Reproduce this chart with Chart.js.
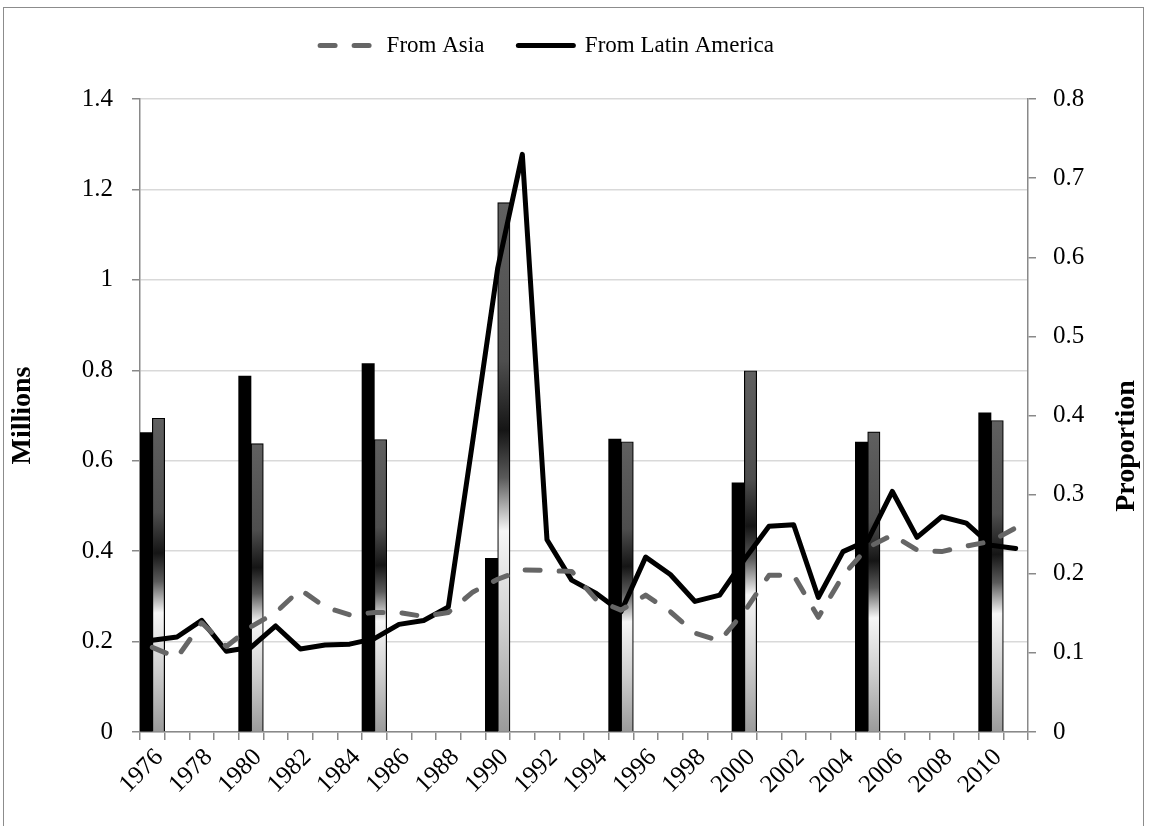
<!DOCTYPE html>
<html><head><meta charset="utf-8">
<script src="https://cdn.jsdelivr.net/npm/chart.js@4.4.1/dist/chart.umd.min.js"></script>
<style>
html,body{margin:0;padding:0;background:#fff;}
#wrap{position:relative;width:1150px;height:826px;overflow:hidden;background:#fff;}
#frame{position:absolute;left:3px;top:7px;width:1139px;height:900px;border:1px solid #8c8c8c;pointer-events:none;}
canvas{position:absolute;left:0;top:0;}
</style></head><body>
<div id="wrap"><canvas id="c" width="1150" height="826"></canvas><div id="frame"></div></div>
<script>
// ---- data ----
const years = ['1976','1977','1978','1979','1980','1981','1982','1983','1984','1985','1986','1987',
  '1988','1989','1990','1991','1992','1993','1994','1995','1996','1997','1998','1999',
  '2000','2001','2002','2003','2004','2005','2006','2007','2008','2009','2010','2011'];
const labeledYears = ['1976','1978','1980','1982','1984','1986','1988','1990','1992','1994',
  '1996','1998','2000','2002','2004','2006','2008','2010'];
// bars, millions (left axis)
const barsBlack = [0.662,null,null,null,0.787,null,null,null,null,0.815,null,null,
  null,null,0.384,null,null,null,null,0.648,null,null,null,null,
  0.551,null,null,null,null,0.641,null,null,null,null,0.706,null];
const barsGradient = [0.694,null,null,null,0.638,null,null,null,null,0.647,null,null,
  null,null,1.171,null,null,null,null,0.642,null,null,null,null,
  0.799,null,null,null,null,0.664,null,null,null,null,0.689,null];
// proportions (right axis)
const fromAsia = [0.107,0.094,0.138,0.108,0.133,0.151,0.180,0.158,0.148,0.151,0.151,0.146,
  0.151,0.177,0.193,0.205,0.204,0.203,0.167,0.154,0.173,0.152,0.125,0.115,
  0.152,0.198,0.198,0.145,0.198,0.233,0.249,0.230,0.228,0.235,0.241,0.258];
const fromLatinAmerica = [0.116,0.120,0.141,0.102,0.107,0.134,0.105,0.110,0.111,0.118,0.136,0.141,
  0.158,0.370,0.586,0.730,0.243,0.192,0.175,0.152,0.221,0.199,0.165,0.173,
  0.218,0.260,0.262,0.170,0.228,0.242,0.304,0.246,0.272,0.264,0.236,0.232];
const leftTicks = {min: 0, max: 1.4, step: 0.2};
const rightTicks = {min: 0, max: 0.8, step: 0.1};

// ---- styling ----
const FONT = '"Liberation Serif", "Times New Roman", serif';
const AXIS = '#898989';

function gradFill(ctx) {
  const chart = ctx.chart;
  const v = ctx.raw;
  if (!chart.chartArea || v == null) return '#5a5a5a';
  const ys = chart.scales.y, xs = chart.scales.x;
  const top = ys.getPixelForValue(v), bot = ys.getPixelForValue(0);
  const cx = xs.getPixelForValue(ctx.dataIndex);
  const g = chart.ctx.createLinearGradient(cx, top, cx + 12, bot);
  g.addColorStop(0, '#606060');
  g.addColorStop(0.3, '#4e4e4e');
  g.addColorStop(0.43, '#151515');
  g.addColorStop(0.52, '#5a5a5a');
  g.addColorStop(0.62, '#f6f6f6');
  g.addColorStop(0.8, '#cfcfcf');
  g.addColorStop(1, '#9a9a9a');
  return g;
}

const extras = {
  id: 'extras',
  beforeUpdate(chart) {
    const lg = chart.legend;
    if (lg && !lg.__p) {
      const f = lg.fit;
      lg.fit = function () { f.call(this); this.height = 99; };
      lg.__p = true;
    }
  },
  afterDraw(chart) {
    const c = chart.ctx;
    c.save();
    c.translate(1127, 446);
    c.rotate(-Math.PI / 2);
    c.font = 'bold 28px ' + FONT;
    c.fillStyle = '#000';
    c.textAlign = 'center';
    c.textBaseline = 'middle';
    c.fillText('Proportion', 0, 0);
    c.restore();
  }
};

const fmt = v => String(+Number(v).toFixed(1));

new Chart(document.getElementById('c'), {
  data: {
    labels: years,
    datasets: [
      { type: 'bar', label: 'Black', data: barsBlack, yAxisID: 'y', backgroundColor: '#000',
        borderWidth: 0, categoryPercentage: 1, barPercentage: 1, order: 2 },
      { type: 'bar', label: 'Gradient', data: barsGradient, yAxisID: 'y', backgroundColor: gradFill,
        borderColor: '#000', borderWidth: 1.2, categoryPercentage: 1, barPercentage: 1, order: 2 },
      { type: 'line', label: 'From Asia', data: fromAsia, yAxisID: 'y1', borderColor: '#666666',
        borderWidth: 5, borderDash: [15, 19], borderCapStyle: 'round', borderJoinStyle: 'round',
        pointRadius: 0, pointStyle: 'line', tension: 0, order: 0 },
      { type: 'line', label: 'From Latin America', data: fromLatinAmerica, yAxisID: 'y1', borderColor: '#000',
        borderWidth: 5, borderCapStyle: 'round', borderJoinStyle: 'round',
        pointRadius: 0, pointStyle: 'line', tension: 0, order: 1 }
    ]
  },
  options: {
    responsive: false,
    animation: false,
    devicePixelRatio: 1,
    layout: { padding: { left: 0, right: 56, top: 0, bottom: 0 } },
    plugins: {
      tooltip: { enabled: false },
      legend: {
        position: 'top',
        labels: {
          font: { family: FONT, size: 23 },
          color: '#000',
          usePointStyle: true,
          pointStyleWidth: 55,
          padding: 34,
          generateLabels(chart) {
            const items = Chart.defaults.plugins.legend.labels.generateLabels(chart);
            return items.filter(it => it.datasetIndex >= 2).map(it => {
              const ds = chart.data.datasets[it.datasetIndex];
              it.lineDash = ds.borderDash || [];
              it.lineWidth = ds.borderWidth;
              it.strokeStyle = ds.borderColor;
              it.fillStyle = ds.borderColor;
              it.lineCap = ds.borderCapStyle || 'butt';
              it.pointStyle = 'line';
              return it;
            });
          }
        }
      }
    },
    scales: {
      x: {
        type: 'category',
        offset: true,
        grid: { display: true, drawOnChartArea: false, drawTicks: true, tickLength: 8, color: AXIS, lineWidth: 1.5, offset: true },
        border: { display: true, color: AXIS, width: 1.5 },
        ticks: {
          autoSkip: false, maxRotation: 45, minRotation: 45, padding: 3, labelOffset: 7,
          font: { family: FONT, size: 25 }, color: '#000',
          callback: function (value, index) {
            const lab = years[index];
            return labeledYears.includes(lab) ? lab : '';
          }
        },
        afterFit(s) { s.height = 94; }
      },
      y: {
        position: 'left',
        min: leftTicks.min, max: leftTicks.max,
        ticks: { stepSize: leftTicks.step, font: { family: FONT, size: 25 }, color: '#000', padding: 19, callback: fmt },
        grid: { color: '#d9d9d9', lineWidth: 1.5, drawTicks: true, tickLength: 8, tickColor: AXIS, tickWidth: 1.5 },
        border: { display: true, color: AXIS, width: 1.5 },
        title: { display: true, text: 'Millions', font: { family: FONT, size: 28, weight: 'bold' }, color: '#000', padding: { top: 6, bottom: 0 } },
        afterFit(s) { s.width = 140; }
      },
      y1: {
        position: 'right',
        min: rightTicks.min, max: rightTicks.max,
        ticks: { stepSize: rightTicks.step, font: { family: FONT, size: 25 }, color: '#000', padding: 17, callback: fmt },
        grid: { drawOnChartArea: false, drawTicks: true, tickLength: 8, color: AXIS, lineWidth: 1.5 },
        border: { display: true, color: AXIS, width: 1.5 },
        afterFit(s) { s.width = 66; }
      }
    }
  },
  plugins: [extras]
});
</script>
</body></html>
